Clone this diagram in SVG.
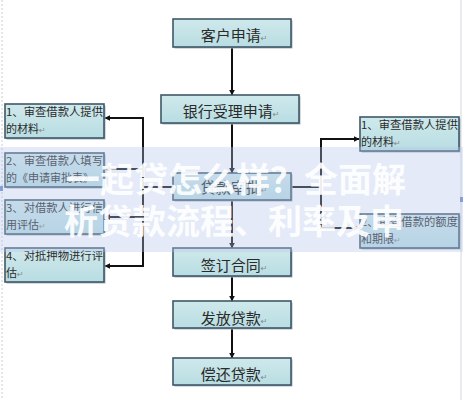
<svg xmlns="http://www.w3.org/2000/svg" width="463" height="400" viewBox="0 0 463 400">
<defs>
<marker id="ah" viewBox="0 0 10 10" refX="9" refY="5" markerWidth="6" markerHeight="6" markerUnits="userSpaceOnUse" orient="auto">
<path d="M0,0 L10,5 L0,10 z" fill="#111"/>
</marker>
<linearGradient id="bf" x1="0" y1="0" x2="0" y2="1">
<stop offset="0" stop-color="#cfe9ec"/>
<stop offset="1" stop-color="#b8dde2"/>
</linearGradient>
<style>
.box{fill:url(#bf);stroke:#3f5868;stroke-width:1.6}
.sh{fill:#aab6bc}
.mt{font-family:"Noto Sans CJK SC","Noto Sans",sans-serif;font-size:15px;fill:#2a2a2a;text-anchor:middle}
.st{font-family:"Noto Sans CJK SC","Noto Sans",sans-serif;font-size:11px;fill:#2a2a2a}
.pm{font-family:"DejaVu Sans",sans-serif;font-size:8px;fill:#888}
.ln{stroke:#111;stroke-width:2;fill:none}
.ar{stroke:#111;stroke-width:2;fill:none;marker-end:url(#ah)}
.wm{font-family:"Noto Sans CJK SC",sans-serif;font-size:34px;font-weight:bold;fill:#fff;fill-opacity:0.92;text-anchor:middle}
</style>
</defs>
<rect width="463" height="400" fill="#fff"/>
<line x1="2" y1="0" x2="2" y2="400" stroke="#c8ccd4" stroke-width="1" stroke-dasharray="2,2"/>
<line x1="461" y1="0" x2="461" y2="400" stroke="#d0d6e0" stroke-width="1"/>
<rect x="0" y="186" width="3" height="5" fill="#6a8cc8"/>
<rect x="460" y="197" width="3" height="5" fill="#6a8cc8"/>

<g id="connectors">
<line class="ar" x1="232" y1="47" x2="232" y2="95"/>
<line class="ar" x1="232" y1="123" x2="232" y2="173"/>
<line class="ar" x1="232" y1="200" x2="232" y2="248"/>
<line class="ar" x1="232" y1="276" x2="232" y2="301"/>
<line class="ar" x1="232" y1="328" x2="232" y2="358"/>
<line class="ln" x1="173" y1="187" x2="143" y2="187"/>
<line class="ln" x1="143" y1="117" x2="143" y2="267"/>
<line class="ar" x1="144" y1="118" x2="105" y2="118"/>
<line class="ar" x1="143" y1="169" x2="105" y2="169"/>
<line class="ar" x1="143" y1="217" x2="105" y2="217"/>
<line class="ar" x1="144" y1="266" x2="105" y2="266"/>
<line class="ln" x1="291" y1="187" x2="321" y2="187"/>
<line class="ln" x1="321" y1="138" x2="321" y2="229"/>
<line class="ar" x1="320" y1="139" x2="359" y2="139"/>
<line class="ar" x1="320" y1="228" x2="359" y2="228"/>
</g>

<g id="n1"><rect class="sh" x="174.5" y="20.5" width="118" height="28"/><rect class="box" x="173" y="19" width="118" height="28"/><text class="mt" x="234" y="41">客户申请<tspan class="pm">↵</tspan></text></g>
<g id="n2"><rect class="sh" x="162.5" y="96.5" width="138" height="28"/><rect class="box" x="161" y="95" width="138" height="28"/><text class="mt" x="231" y="117">银行受理申请<tspan class="pm">↵</tspan></text></g>
<g id="n3"><rect class="sh" x="174.5" y="174.5" width="118" height="27"/><rect class="box" x="173" y="173" width="118" height="27"/><text class="mt" x="234" y="193">贷款审批<tspan class="pm">↵</tspan></text></g>
<g id="n4"><rect class="sh" x="174.5" y="249.5" width="118" height="28"/><rect class="box" x="173" y="248" width="118" height="28"/><text class="mt" x="234" y="271">签订合同<tspan class="pm">↵</tspan></text></g>
<g id="n5"><rect class="sh" x="174.5" y="302.5" width="118" height="27"/><rect class="box" x="173" y="301" width="118" height="27"/><text class="mt" x="234" y="324">发放贷款<tspan class="pm">↵</tspan></text></g>
<g id="n6"><rect class="sh" x="174.5" y="359.5" width="118" height="27"/><rect class="box" x="173" y="358" width="118" height="27"/><text class="mt" x="234" y="380">偿还贷款<tspan class="pm">↵</tspan></text></g>

<g id="l1"><rect class="sh" x="6.5" y="105.5" width="99" height="34"/><rect class="box" x="5" y="104" width="99" height="34"/><text class="st" x="6" y="116" textLength="97" lengthAdjust="spacingAndGlyphs">1、审查借款人提供</text><text class="st" x="6" y="133">的材料<tspan class="pm">↵</tspan></text></g>
<g id="l2"><rect class="sh" x="6.5" y="154.5" width="99" height="34"/><rect class="box" x="5" y="153" width="99" height="34"/><text class="st" x="6" y="165" textLength="97" lengthAdjust="spacingAndGlyphs">2、审查借款人填写</text><text class="st" x="6" y="182">的《申请审批表》<tspan class="pm">↵</tspan></text></g>
<g id="l3"><rect class="sh" x="6.5" y="201.5" width="99" height="34"/><rect class="box" x="5" y="200" width="99" height="34"/><text class="st" x="6" y="212" textLength="97" lengthAdjust="spacingAndGlyphs">3、对借款人进行信</text><text class="st" x="6" y="229">用评估<tspan class="pm">↵</tspan></text></g>
<g id="l4"><rect class="sh" x="6.5" y="249.5" width="99" height="34"/><rect class="box" x="5" y="248" width="99" height="34"/><text class="st" x="6" y="260" textLength="97" lengthAdjust="spacingAndGlyphs">4、对抵押物进行评</text><text class="st" x="6" y="277">估<tspan class="pm">↵</tspan></text></g>
<g id="r1"><rect class="sh" x="361.5" y="118.5" width="99" height="34"/><rect class="box" x="360" y="117" width="99" height="34"/><text class="st" x="361" y="129" textLength="97" lengthAdjust="spacingAndGlyphs">1、审查借款人提供</text><text class="st" x="361" y="146">的材料<tspan class="pm">↵</tspan></text></g>
<g id="r2"><rect class="sh" x="361.5" y="215.5" width="99" height="34"/><rect class="box" x="360" y="214" width="99" height="34"/><text class="st" x="361" y="226" textLength="97" lengthAdjust="spacingAndGlyphs">2、审查借款的额度</text><text class="st" x="361" y="243">和期限<tspan class="pm">↵</tspan></text></g>

<g id="watermark">
<rect x="0" y="147" width="463" height="105" fill="#b4c3ec" fill-opacity="0.35"/>
<text class="wm" x="236" y="192">一起贷怎么样？全面解</text>
<text class="wm" x="234" y="234">析贷款流程、利率及申</text>
</g>
</svg>
